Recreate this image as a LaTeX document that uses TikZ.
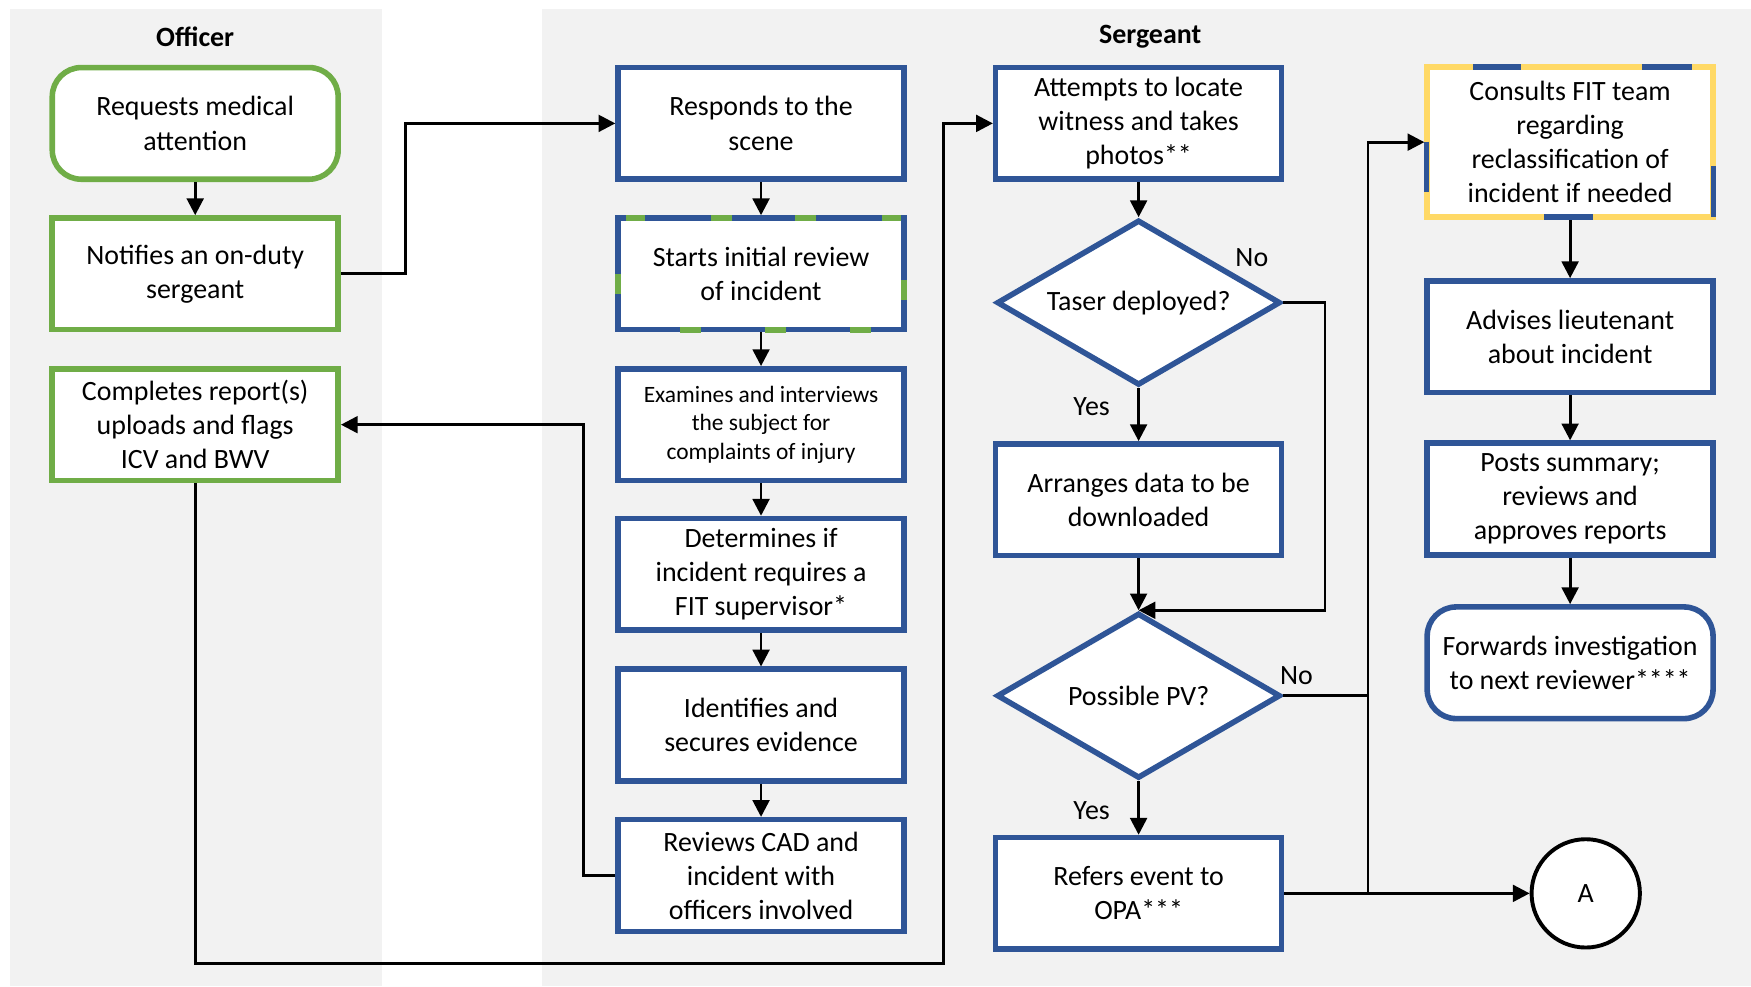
\documentclass[tikz,border=0pt]{standalone}
\usepackage{fontspec}
\setmainfont{Carlito}
\usetikzlibrary{arrows.meta,shapes.geometric}
\definecolor{bblue}{HTML}{2F5597}
\definecolor{ggreen}{HTML}{70AD47}
\definecolor{yyellow}{HTML}{FFD966}
\definecolor{lanegray}{HTML}{F2F2F2}
\begin{document}
\begin{tikzpicture}[x=1pt,y=-1pt,
  txt/.style={font=\fontsize{25}{30.5}\selectfont, text=black},
  box/.style={txt, draw=bblue, line width=5pt, fill=white, minimum width=256pt, minimum height=100pt, inner sep=0pt, align=center},
  gbox/.style={box, draw=ggreen},
  rbox/.style={rounded corners=26pt},
  dec/.style={txt, shape=diamond, draw=bblue, line width=5pt, fill=white, minimum width=254pt, minimum height=148pt, aspect=1.71, inner sep=0pt, align=center},
  arr/.style={line width=2.5pt, -{Triangle[length=15pt,width=15pt]}},
  conn/.style={line width=2.5pt},
  lbl/.style={txt, inner sep=0pt},
  gseg/.style={draw=ggreen, line width=5pt},
  bseg/.style={draw=bblue, line width=5pt},
  title/.style={font=\fontsize{25}{30}\selectfont\bfseries, inner sep=0pt},
]
\useasboundingbox (0,0) rectangle (1568,883);
\fill[white] (0,0) rectangle (1568,883);
% lanes
\fill[lanegray] (8.6,8) rectangle (341.7,883);
\fill[lanegray] (485,8) rectangle (1568,883);
\node[title] (tOff) at (174.8,33) {Officer};
\node[title] (tSer) at (1030,33) {Sergeant};
% officer column
\node[gbox, rbox] (req) at (174.8,110.5) {Requests medical\\attention};
\node[gbox] (notif) at (174.8,245.2) {Notifies an on-duty\\sergeant};
\node[gbox] (comp) at (174.8,380.3) {Completes report(s)\\uploads and flags\\ICV and BWV};
% sergeant column 2
\node[box] (resp) at (681.5,110.5) {Responds to the\\scene};
\node[box] (start) at (681.5,245.2) {Starts initial review\\of incident};
\node[box, font=\fontsize{21}{25.5}\selectfont] (exam) at (681.5,380.3) {Examines and interviews\\the subject for\\complaints of injury};
\node[box] (det) at (681.5,514.3) {Determines if\\incident requires a\\FIT supervisor*};
\node[box] (iden) at (681.5,649.3) {Identifies and\\secures evidence};
\node[box] (rev) at (681.5,784) {Reviews CAD and\\incident with\\officers involved};
% column 3
\node[box] (att) at (1019.6,110.5) {Attempts to locate\\witness and takes\\photos**};
\node[dec] (taser) at (1019.6,271) {Taser deployed?};
\node[box] (arrg) at (1019.6,447.5) {Arranges data to be\\downloaded};
\node[dec] (pv) at (1019.6,623) {Possible PV?};
\node[box] (ref) at (1019.6,800) {Refers event to\\OPA***};
% column 4
\node[box, draw=yyellow, minimum height=134.5pt] (cons) at (1406,127.3) {Consults FIT team\\regarding\\reclassification of\\incident if needed};
\node[box] (adv) at (1406,301.6) {Advises lieutenant\\about incident};
\node[box] (posts) at (1406,446.8) {Posts summary;\\reviews and\\approves reports};
\node[box, rbox] (fwd) at (1406,593.5) {Forwards investigation\\to next reviewer****};
\node[txt, circle, draw=black, line width=3.5pt, fill=white, minimum size=97pt, inner sep=0pt] (A) at (1420,800) {A};
% two-colour borders
\draw[gseg] (561,195) -- (578,195);
\draw[gseg] (636.5,195) -- (655.3,195);
\draw[gseg] (712,195) -- (731,195);
\draw[gseg] (789.6,195) -- (806.7,195);
\draw[gseg] (809.5,251) -- (809.5,269);
\draw[gseg] (609,295.5) -- (628,295.5);
\draw[gseg] (684.8,295.5) -- (703.6,295.5);
\draw[gseg] (761,295.5) -- (780,295.5);
\draw[gseg] (553.5,245) -- (553.5,263);
\draw[bseg] (1319.4,60) -- (1362.3,60);
\draw[bseg] (1470.2,60) -- (1514.8,60);
\draw[bseg] (1534.5,149) -- (1534.5,194.5);
\draw[bseg] (1382.8,194.5) -- (1426.7,194.5);
\draw[bseg] (1277.5,126.9) -- (1277.5,171.6);
% labels
\node[lbl] (noT) at (1121,230.4) {No};
\node[lbl] (yesT) at (977.5,364) {Yes};
\node[lbl] (noP) at (1161,605) {No};
\node[lbl] (yesP) at (977.5,726) {Yes};
% connectors
\coordinate (jn) at (363.3,245.2);
\coordinate (jr) at (522.7,784);
\coordinate (jb) at (845,863);
\coordinate (jt) at (1186.5,271);
\coordinate (jp) at (1225,623);
\coordinate (jo) at (1225,800);
\draw[arr] (req.south) -- (notif.north);
\draw[arr] (notif.east) -- (jn) |- (resp.west);
\draw[arr] (resp.south) -- (start.north);
\draw[arr] (start.south) -- (exam.north);
\draw[arr] (exam.south) -- (det.north);
\draw[arr] (det.south) -- (iden.north);
\draw[arr] (iden.south) -- (rev.north);
\draw[arr] (rev.west) -- (jr) |- (comp.east);
\draw[arr] (comp.south) |- (jb) |- (att.west);
\draw[arr] (att.south) -- (taser.north);
\draw[arr] (taser.south) -- (arrg.north);
\draw[arr] (taser.east) -- (jt) |- (pv.north);
\draw[arr] (arrg.south) -- (pv.north);
\draw[arr] (pv.south) -- (ref.north);
\draw[conn] (pv.east) -- (jp);
\draw[arr] (ref.east) -- (A.west);
\draw[arr] (jo) |- (cons.west);
\draw[arr] (cons.south) -- (adv.north);
\draw[arr] (adv.south) -- (posts.north);
\draw[arr] (posts.south) -- (fwd.north);
\end{tikzpicture}
\end{document}
